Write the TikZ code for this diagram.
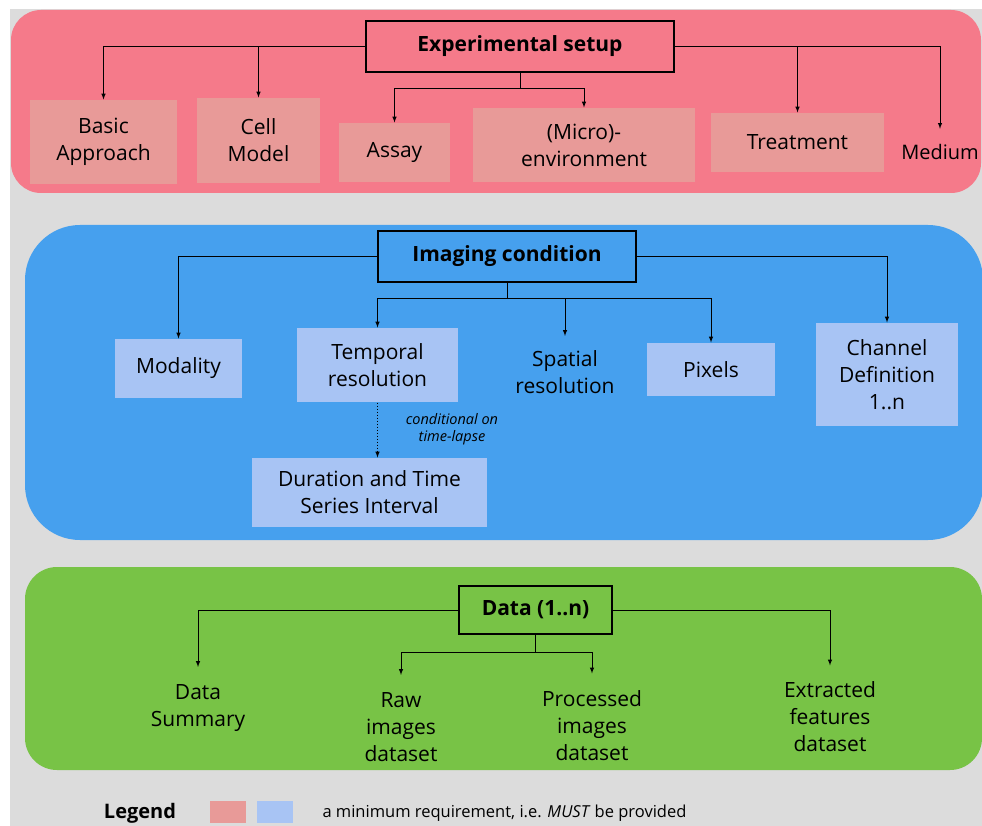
\documentclass[tikz,border=0pt]{standalone}
\usepackage{fontspec}
\setmainfont{Open Sans}
\usepackage{tikz}
\usetikzlibrary{positioning}
\definecolor{pagegray}{HTML}{DCDCDC}
\definecolor{setupbg}{HTML}{F57A8A}
\definecolor{setupbox}{HTML}{E89A98}
\definecolor{imagingbg}{HTML}{46A0EE}
\definecolor{imagingbox}{HTML}{A8C4F4}
\definecolor{databg}{HTML}{78C346}
\newcommand{\txt}{\fontsize{21}{27}\selectfont}

\begin{document}
\begin{tikzpicture}[x=1pt,y=-1pt,line width=1pt,>=latex,
  head/.style={draw=black,line width=1.2pt,inner sep=0pt,font=\fontsize{21}{25}\selectfont\bfseries},
  redbox/.style={fill=setupbox,inner sep=0pt,align=center,font=\txt},
  bluebox/.style={fill=imagingbox,inner sep=0pt,align=center,font=\txt},
  bare/.style={inner xsep=2pt,inner ysep=15pt,align=center,font=\txt}]
\useasboundingbox (0,0) rectangle (982,826);
\fill[white] (0,0) rectangle (982,826);
\fill[pagegray] (10,9) rectangle (982,826);

% panels
\fill[setupbg,rounded corners=30pt] (11,10) rectangle (981,193);
\fill[imagingbg,rounded corners=55pt] (25,225) rectangle (983,540);
\fill[databg,rounded corners=32pt] (25,567) rectangle (982,770);

% experimental setup
\node[head,fill=setupbg,minimum width=308pt,minimum height=51pt] at (520,46.5) (setup) {Experimental setup};
\node[redbox,minimum width=147pt,minimum height=84pt] at (103.5,142) (basic) {Basic\\Approach};
\node[redbox,minimum width=123pt,minimum height=85pt] at (258.5,140.5) (cell) {Cell\\Model};
\node[redbox,minimum width=111pt,minimum height=59pt] at (394.5,152.5) (assay) {Assay};
\node[redbox,minimum width=222pt,minimum height=74pt] at (584,145) (micro) {(Micro)-\\environment};
\node[redbox,minimum width=173pt,minimum height=59pt] at (797.5,142.5) (treat) {Treatment};
\node[bare,font=\fontsize{20}{27}\selectfont] at (940,152) (medium) {Medium};
\coordinate (sj) at (520,89);
\draw [->] (setup.west) -| (basic.north);
\draw [->] (setup.west) -| (cell.north);
\draw [->] (setup.east) -| (treat.north);
\draw [->] (setup.east) -| (medium.north);
\draw (setup.south) -- (sj);
\draw [->] (sj) -| (assay.north);
\draw [->] (sj) -| (micro.north);

% imaging condition
\node[head,fill=imagingbg,minimum width=258pt,minimum height=51pt] at (507,256.5) (imaging) {Imaging condition};
\node[bluebox,minimum width=127pt,minimum height=59pt] at (178.5,368.5) (modality) {Modality};
\node[bluebox,minimum width=161pt,minimum height=74pt] at (377.5,365) (temporal) {Temporal\\resolution};
\node[bare,inner ysep=14pt] at (565,372) (spatial) {Spatial\\resolution};
\node[bluebox,minimum width=128pt,minimum height=53pt] at (711,369.5) (pixels) {Pixels};
\node[bluebox,minimum width=142pt,minimum height=103pt] at (887,374.5) (channel) {Channel\\Definition\\1..n};
\node[bluebox,minimum width=235pt,minimum height=69pt] at (369.5,492.5) (duration) {Duration and Time\\Series Interval};
\node[align=center,font=\fontsize{14.5}{17}\selectfont\itshape] at (452,429) (cond) {conditional on\\time-lapse};
\coordinate (ij) at (507,298);
\draw [->] (imaging.west) -| (modality.north);
\draw [->] (imaging.east) -| (channel.north);
\draw (imaging.south) -- (ij);
\draw [->] (ij) -| (temporal.north);
\draw [->] (ij) -| (spatial.north);
\draw [->] (ij) -| (pixels.north);
\draw [->,dotted] (temporal.south) -- (temporal.south |- duration.north);

% data
\node[head,fill=databg,minimum width=153pt,minimum height=48pt] at (535.5,610) (data) {Data (1..n)};
\node[bare,inner ysep=17pt] at (198,708) (summary) {Data\\Summary};
\node[bare,inner ysep=17pt] at (401,727) (raw) {Raw\\images\\dataset};
\node[bare,inner ysep=17pt] at (592,726) (processed) {Processed\\images\\dataset};
\node[bare,inner ysep=16pt] at (830,717) (extracted) {Extracted\\features\\dataset};
\coordinate (dj) at (535.5,652);
\draw [->] (data.west) -| (summary.north);
\draw [->] (data.east) -| (extracted.north);
\draw (data.south) -- (dj);
\draw [->] (dj) -| (raw.north);
\draw [->] (dj) -| (processed.north);

% legend
\node[font=\fontsize{20}{24}\selectfont\bfseries,inner sep=0pt] at (140,813) (legend) {Legend};
\node[fill=setupbox,minimum width=36pt,minimum height=22pt,inner sep=0pt] at (228,812) (legred) {};
\node[fill=imagingbox,minimum width=36pt,minimum height=22pt,inner sep=0pt] at (274.5,812) (legblue) {};
\node[anchor=west,font=\fontsize{16.5}{20}\selectfont,inner sep=0pt] at (322,813) (legtext) {a minimum requirement, i.e. \textit{MUST} be provided};
\end{tikzpicture}
\end{document}
